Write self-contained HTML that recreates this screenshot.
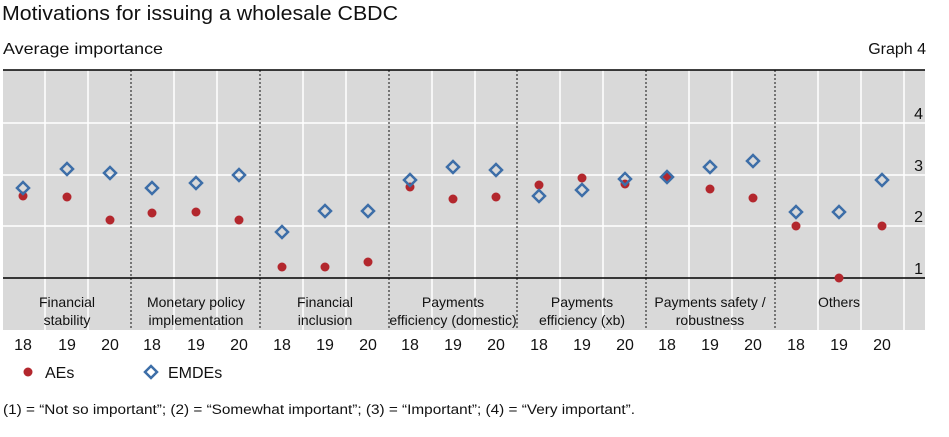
<!DOCTYPE html>
<html><head><meta charset="utf-8"><style>
html,body{margin:0;padding:0;background:#fff;width:949px;height:437px;overflow:hidden}
svg{display:block;font-family:"Liberation Sans",sans-serif}
</style></head><body>
<svg width="949" height="437" viewBox="0 0 949 437" xmlns="http://www.w3.org/2000/svg">
<text x="2" y="20" font-size="20" fill="#111" textLength="396" lengthAdjust="spacingAndGlyphs">Motivations for issuing a wholesale CBDC</text>
<text x="3" y="54" font-size="16" fill="#111" textLength="160" lengthAdjust="spacingAndGlyphs">Average importance</text>
<text x="926" y="54" font-size="16" fill="#111" text-anchor="end">Graph 4</text>
<rect x="3" y="70" width="922" height="260" fill="#d9d9d9"/>
<g stroke="#fff" stroke-width="1.5">
<line x1="3" x2="925" y1="123" y2="123"/><line x1="3" x2="925" y1="175" y2="175"/><line x1="3" x2="925" y1="226" y2="226"/>
<line x1="45" x2="45" y1="70" y2="330"/><line x1="88" x2="88" y1="70" y2="330"/>
<line x1="174" x2="174" y1="70" y2="330"/><line x1="217" x2="217" y1="70" y2="330"/>
<line x1="303" x2="303" y1="70" y2="330"/><line x1="346" x2="346" y1="70" y2="330"/>
<line x1="432" x2="432" y1="70" y2="330"/><line x1="475" x2="475" y1="70" y2="330"/>
<line x1="560" x2="560" y1="70" y2="330"/><line x1="603" x2="603" y1="70" y2="330"/>
<line x1="689" x2="689" y1="70" y2="330"/><line x1="732" x2="732" y1="70" y2="330"/>
<line x1="818" x2="818" y1="70" y2="330"/><line x1="861" x2="861" y1="70" y2="330"/>
<line x1="904" x2="904" y1="70" y2="330"/>
</g>
<g stroke="#111" stroke-width="1" stroke-dasharray="2,2">
<line x1="131" x2="131" y1="70" y2="330"/><line x1="260" x2="260" y1="70" y2="330"/>
<line x1="389" x2="389" y1="70" y2="330"/><line x1="517" x2="517" y1="70" y2="330"/>
<line x1="646" x2="646" y1="70" y2="330"/><line x1="775" x2="775" y1="70" y2="330"/>
</g>
<line x1="3" x2="925" y1="70" y2="70" stroke="#000" stroke-width="1.5"/>
<line x1="3" x2="925" y1="278" y2="278" stroke="#000" stroke-width="1.5"/>
<g font-size="16" fill="#111" text-anchor="end">
<text x="923" y="119">4</text><text x="923" y="171">3</text><text x="923" y="222">2</text><text x="923" y="274">1</text>
</g>
<g font-size="14" fill="#111" text-anchor="middle">
<text x="67" y="307">Financial</text><text x="67" y="325">stability</text>
<text x="196" y="307">Monetary policy</text><text x="196" y="325">implementation</text>
<text x="325" y="307">Financial</text><text x="325" y="325">inclusion</text>
<text x="453" y="307">Payments</text><text x="453" y="325">efficiency (domestic)</text>
<text x="582" y="307">Payments</text><text x="582" y="325">efficiency (xb)</text>
<text x="710" y="307">Payments safety /</text><text x="710" y="325">robustness</text>
<text x="839" y="307">Others</text>
</g>
<g font-size="16" fill="#111" text-anchor="middle">
<text x="23" y="350">18</text><text x="67" y="350">19</text><text x="110" y="350">20</text>
<text x="152" y="350">18</text><text x="196" y="350">19</text><text x="239" y="350">20</text>
<text x="282" y="350">18</text><text x="325" y="350">19</text><text x="368" y="350">20</text>
<text x="410" y="350">18</text><text x="453" y="350">19</text><text x="496" y="350">20</text>
<text x="539" y="350">18</text><text x="582" y="350">19</text><text x="625" y="350">20</text>
<text x="667" y="350">18</text><text x="710" y="350">19</text><text x="753" y="350">20</text>
<text x="796" y="350">18</text><text x="839" y="350">19</text><text x="882" y="350">20</text>
</g>
<g fill="#b3272d">
<circle cx="23" cy="196" r="4.5"/><circle cx="67" cy="197" r="4.5"/><circle cx="110" cy="220" r="4.5"/>
<circle cx="152" cy="213" r="4.5"/><circle cx="196" cy="212" r="4.5"/><circle cx="239" cy="220" r="4.5"/>
<circle cx="282" cy="267" r="4.5"/><circle cx="325" cy="267" r="4.5"/><circle cx="368" cy="262" r="4.5"/>
<circle cx="410" cy="187" r="4.5"/><circle cx="453" cy="199" r="4.5"/><circle cx="496" cy="197" r="4.5"/>
<circle cx="539" cy="185" r="4.5"/><circle cx="582" cy="178" r="4.5"/><circle cx="625" cy="184" r="4.5"/>
<circle cx="667" cy="177" r="4.5"/><circle cx="710" cy="189" r="4.5"/><circle cx="753" cy="198" r="4.5"/>
<circle cx="796" cy="226" r="4.5"/><circle cx="839" cy="278" r="4.5"/><circle cx="882" cy="226" r="4.5"/>
<circle cx="28" cy="372" r="4.5"/>
</g>
<g fill="none" stroke="#3d6ea8" stroke-width="2.5">
<path d="M23 182l6 6-6 6-6-6z"/><path d="M67 163l6 6-6 6-6-6z"/><path d="M110 167l6 6-6 6-6-6z"/>
<path d="M152 182l6 6-6 6-6-6z"/><path d="M196 177l6 6-6 6-6-6z"/><path d="M239 169l6 6-6 6-6-6z"/>
<path d="M282 226l6 6-6 6-6-6z"/><path d="M325 205l6 6-6 6-6-6z"/><path d="M368 205l6 6-6 6-6-6z"/>
<path d="M410 174l6 6-6 6-6-6z"/><path d="M453 161l6 6-6 6-6-6z"/><path d="M496 164l6 6-6 6-6-6z"/>
<path d="M539 190l6 6-6 6-6-6z"/><path d="M582 184l6 6-6 6-6-6z"/><path d="M625 173l6 6-6 6-6-6z"/>
<path d="M667 171l6 6-6 6-6-6z"/><path d="M710 161l6 6-6 6-6-6z"/><path d="M753 155l6 6-6 6-6-6z"/>
<path d="M796 206l6 6-6 6-6-6z"/><path d="M839 206l6 6-6 6-6-6z"/><path d="M882 174l6 6-6 6-6-6z"/>
<path d="M151 366l6 6-6 6-6-6z"/>
</g>
<text x="45" y="378" font-size="16" fill="#111">AEs</text>
<text x="168" y="378" font-size="16" fill="#111">EMDEs</text>
<text x="3" y="414" font-size="13.5" fill="#111" textLength="632" lengthAdjust="spacingAndGlyphs">(1) = “Not so important”; (2) = “Somewhat important”; (3) = “Important”; (4) = “Very important”.</text>
<text x="3" y="447" font-size="13.5" fill="#111">Sources: BIS central bank survey on CBDCs.</text>
</svg>
</body></html>
